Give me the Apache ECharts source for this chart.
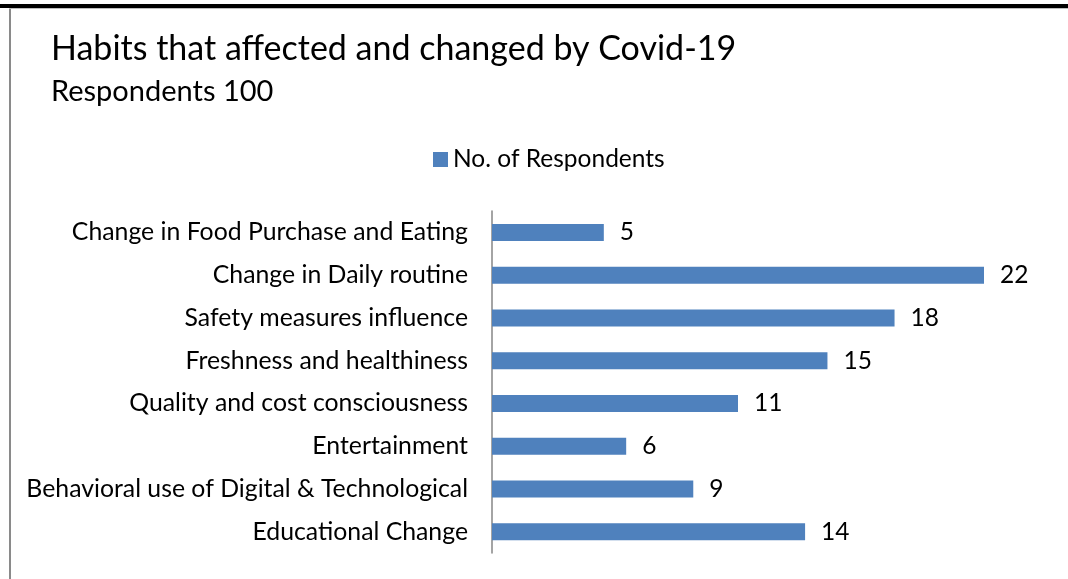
<!DOCTYPE html>
<html><head><meta charset="utf-8">
<script src="https://cdn.jsdelivr.net/npm/echarts@6/dist/echarts.min.js"></script>
<style>
html,body{margin:0;padding:0;background:#fff;}
#c{width:1068px;height:579px;}
.b1{position:absolute;left:0;top:4px;width:1068px;height:4px;background:#000;}
.b2{position:absolute;left:9px;top:8px;width:1059px;height:1px;background:#bdbdbd;}
.b3{position:absolute;left:9px;top:9px;width:2px;height:570px;background:#8a8a8a;}
</style></head>
<body>
<div id="c"></div>
<div class="b1"></div><div class="b2"></div><div class="b3"></div>
<script>
const categories = ["Change in Food Purchase and Eating","Change in Daily routine","Safety measures influence","Freshness and healthiness","Quality and cost consciousness","Entertainment","Behavioral use of Digital & Technological","Educational Change"];
const respondents = [5,22,18,15,11,6,9,14];
const seriesName = "No. of Respondents";
const FONT = "Lato, sans-serif";
const chart = echarts.init(document.getElementById('c'), null, {renderer:'canvas'});
chart.setOption({
  animation:false,
  backgroundColor:'#fff',
  title:[
    {text:"Habits that affected and changed by Covid-19", left:46, top:27, textStyle:{fontFamily:FONT,fontSize:34,fontWeight:'normal',color:'#000'}},
    {text:"Respondents 100", left:46, top:72, textStyle:{fontFamily:FONT,fontSize:29,fontWeight:'normal',color:'#000'}}
  ],
  legend:{data:[seriesName], left:428, top:142, itemWidth:15, itemHeight:15, icon:'rect', itemGap:7,
    textStyle:{fontFamily:FONT,fontSize:24.5,color:'#000'}},
  grid:{left:492, right:84, top:211, bottom:26, containLabel:false},
  xAxis:{type:'value', min:0, max:22, show:false},
  yAxis:{type:'category', data:categories, inverse:true,
    axisLine:{show:true, lineStyle:{color:'#868686', width:1.5}},
    axisTick:{show:false},
    axisLabel:{fontFamily:FONT, fontSize:24.8, color:'#000', margin:24}},
  series:[{name:seriesName, type:'bar', data:respondents, barWidth:17,
    itemStyle:{color:'#4F81BD'},
    label:{show:true, position:'right', distance:16, fontFamily:FONT, fontSize:24.5, color:'#000'}}]
});
</script>
</body></html>
